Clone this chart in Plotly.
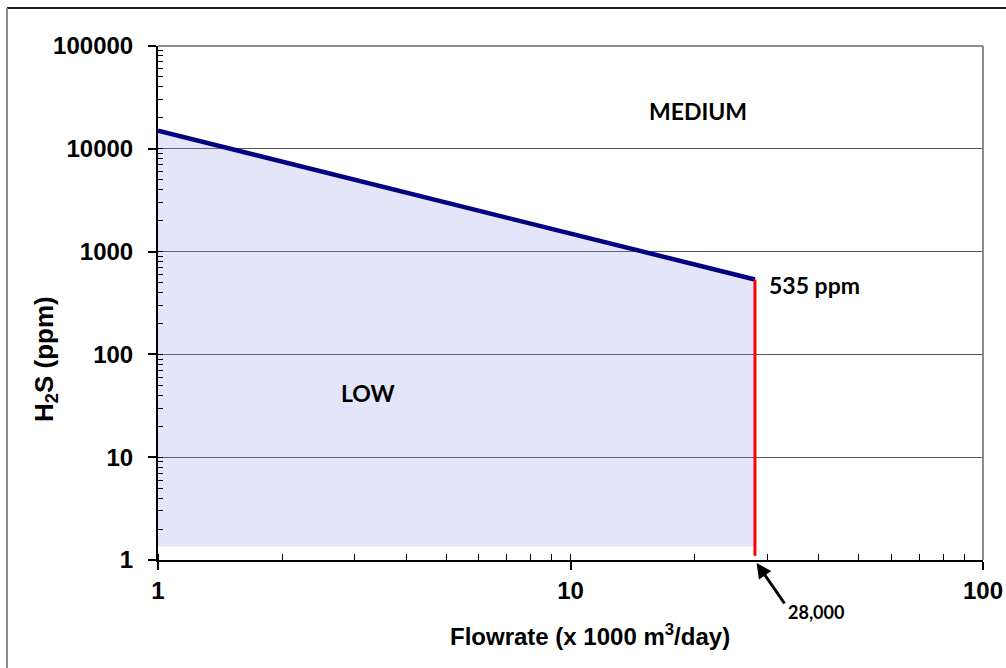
import math
import plotly.graph_objects as go

# ---- data ----
flowrate = [1, 28]            # x 1000 m3/day
h2s_limit = [15000, 535]      # ppm
fill_floor = 1.35             # bottom of shaded LOW region
red_bottom = 1.1
x_tickvals = [1, 10, 100]
x_ticktext = ["1", "10", "100"]
y_tickvals = [1, 10, 100, 1000, 10000, 100000]
y_ticktext = ["1", "10", "100", "1000", "10000", "100000"]
region_labels = ["MEDIUM", "LOW"]
medium_pos = (20.4, 23300)
low_pos = (3.23, 42)
ppm_label = "535 ppm"
ppm_pos = (30.0, 470)
flow_label = "28,000"
x_title = "Flowrate (x 1000 m<sup>3</sup>/day)"
y_title = "H<sub>2</sub>S (ppm)"

W, H = 1006, 668
L, R, T, B = 158, 23, 46, 108
pw, ph = W - L - R, H - T - B

def px_x(p):
    return (p - L) / pw

def px_y(p):
    return (H - B - p) / ph

fig = go.Figure()

# shaded LOW region
fig.add_trace(go.Scatter(
    x=[flowrate[0], flowrate[1], flowrate[1], flowrate[0]],
    y=[h2s_limit[0], h2s_limit[1], fill_floor, fill_floor],
    fill="toself", fillcolor="rgba(150,150,235,0.25)",
    line=dict(width=0), mode="lines", hoverinfo="skip", showlegend=False))

# limit line
fig.add_trace(go.Scatter(
    x=flowrate, y=h2s_limit, mode="lines",
    line=dict(color="#000080", width=4.5), showlegend=False))

# vertical red line
fig.add_trace(go.Scatter(
    x=[flowrate[1], flowrate[1]], y=[h2s_limit[1], red_bottom], mode="lines",
    line=dict(color="#FF0000", width=3), showlegend=False))

tickfont = dict(family="Liberation Sans, Arial", size=24, color="black", weight="bold")
annfont = dict(family="Lato, Open Sans", size=23, color="black", weight="bold")
titlefont = dict(family="Liberation Sans, Arial", size=24, color="black", weight="bold")

fig.update_layout(
    width=W, height=H,
    margin=dict(l=L, r=R, t=T, b=B, autoexpand=False),
    paper_bgcolor="white", plot_bgcolor="white",
    xaxis=dict(
        type="log", range=[0, 2],
        tickvals=x_tickvals, ticktext=x_ticktext,
        ticks="outside", ticklen=8, tickwidth=1.5, tickcolor="black",
        showline=True, linecolor="black", linewidth=2,
        showgrid=False, zeroline=False,
        tickfont=tickfont, ticklabelstandoff=0,
        minor=dict(ticks="inside", ticklen=6, tickcolor="black", tickwidth=1,
                   showgrid=False, dtick="D1"),
    ),
    yaxis=dict(
        type="log", range=[0, 5],
        tickvals=y_tickvals, ticktext=y_ticktext,
        ticks="outside", ticklen=8, tickwidth=1.5, tickcolor="black",
        showline=True, linecolor="black", linewidth=2,
        showgrid=True, gridcolor="#555555", gridwidth=1,
        zeroline=False,
        tickfont=tickfont, ticklabelstandoff=10,
        minor=dict(ticks="inside", ticklen=5, tickcolor="black", tickwidth=1,
                   showgrid=False, dtick="D1"),
    ),
)

# plot-area top/right borders and outer chart frame
fig.add_shape(type="line", xref="paper", yref="paper", x0=0, x1=1, y0=1, y1=1,
              line=dict(color="#8c8c8c", width=2))
fig.add_shape(type="line", xref="paper", yref="paper", x0=1, x1=1, y0=0, y1=1,
              line=dict(color="#8c8c8c", width=2))
fig.add_shape(type="line", xref="paper", yref="paper",
              x0=px_x(7), x1=px_x(W + 5), y0=px_y(8), y1=px_y(8),
              line=dict(color="#222222", width=2))
fig.add_shape(type="line", xref="paper", yref="paper",
              x0=px_x(7), x1=px_x(7), y0=px_y(8), y1=px_y(H + 5),
              line=dict(color="#8c8c8c", width=2))

# axis titles
fig.add_annotation(x=px_x(590), y=px_y(635), xref="paper", yref="paper",
                   xanchor="center", yanchor="middle",
                   text=x_title, showarrow=False, font=titlefont)
fig.add_annotation(x=px_x(45), y=px_y(359), xref="paper", yref="paper",
                   xanchor="center", yanchor="middle",
                   text=y_title, showarrow=False,
                   font=dict(family="Liberation Sans, Arial", size=26, color="black", weight="bold"),
                   textangle=-90)

# annotations
fig.add_annotation(x=math.log10(medium_pos[0]), y=math.log10(medium_pos[1]),
                   text=region_labels[0], showarrow=False, font=annfont)
fig.add_annotation(x=math.log10(low_pos[0]), y=math.log10(low_pos[1]),
                   text=region_labels[1], showarrow=False, font=annfont)
fig.add_annotation(x=math.log10(ppm_pos[0]), y=math.log10(ppm_pos[1]),
                   text=ppm_label, showarrow=False, font=annfont, xanchor="left")
fig.add_annotation(x=math.log10(flowrate[1]) + 0.004, xref="x", yref="paper", y=px_y(563),
                   text="", showarrow=True, arrowhead=2, arrowsize=1, arrowwidth=3,
                   arrowcolor="black", ax=29, ay=42)
fig.add_annotation(x=px_x(816), xref="paper", yref="paper", y=px_y(612),
                   xanchor="center", yanchor="middle",
                   text=flow_label, showarrow=False,
                   font=dict(family="Lato, Open Sans", size=18, color="black", weight="bold"))

fig.write_html("out.html", post_script="document.body.style.margin='0';",
               config={"displayModeBar": False})
